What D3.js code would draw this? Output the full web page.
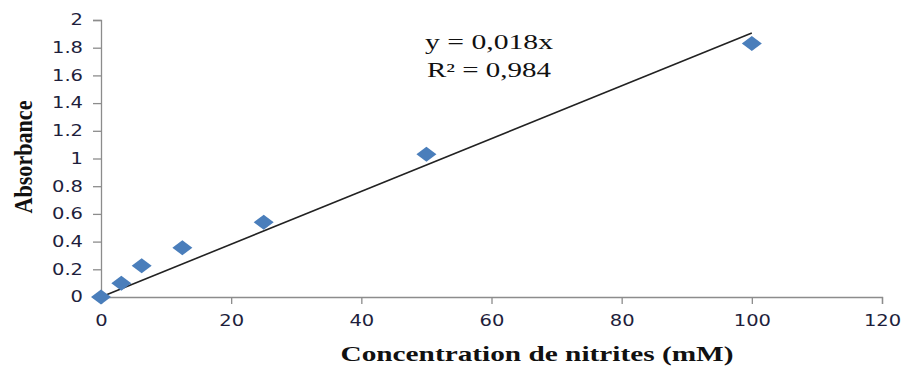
<!DOCTYPE html>
<html>
<head>
<meta charset="utf-8">
<script src="https://cdn.jsdelivr.net/npm/d3@7"></script>
<style>
  html, body { margin: 0; padding: 0; background: #fff; }
  svg { display: block; }
</style>
</head>
<body>
<svg id="chart" width="901" height="367"></svg>
<script>
// Nitrite calibration: concentration (mM) vs absorbance
const concentrations = [0, 3.125, 6.25, 12.5, 25, 50, 100];
const absorbances   = [0, 0.10, 0.225, 0.355, 0.54, 1.03, 1.83];
const xTicks = [0, 20, 40, 60, 80, 100, 120];
const yTicks = [0, 0.2, 0.4, 0.6, 0.8, 1, 1.2, 1.4, 1.6, 1.8, 2];
const equationLines = ["y = 0,018x", "R² = 0,984"];
const xTitle = "Concentration de nitrites (mM)";
const yTitle = "Absorbance";

const svg = d3.select("#chart");
const margin = { left: 101, right: 19, top: 20, bottom: 70 };
const W = 901, H = 367;

const x = d3.scaleLinear().domain([0, 120]).range([margin.left, W - margin.right]);
const y = d3.scaleLinear().domain([0, 2]).range([H - margin.bottom, margin.top]);

const stretch = 1.3; // wide lettering
function widen(sel) {
  sel.each(function () {
    const len = this.getComputedTextLength();
    d3.select(this).attr("textLength", len * stretch).attr("lengthAdjust", "spacingAndGlyphs");
  });
}

// X axis
const gx = svg.append("g")
  .attr("transform", `translate(0,${y(0)})`)
  .call(d3.axisBottom(x).tickValues(xTicks).tickSize(7).tickPadding(11).tickFormat(d3.format("d")));
// Y axis
const gy = svg.append("g")
  .attr("transform", `translate(${x(0)},0)`)
  .call(d3.axisLeft(y).tickValues(yTicks).tickSize(8).tickPadding(10)
    .tickFormat(d => d === 0 ? "0" : (Number.isInteger(d) ? String(d) : d3.format(".1f")(d))));

[gx, gy].forEach(g => {
  g.select(".domain").attr("stroke", "#8c8c8c").attr("stroke-width", 1.3);
  g.selectAll(".tick line").attr("stroke", "#8c8c8c").attr("stroke-width", 1.3);
  g.selectAll(".tick text")
    .attr("font-family", "'DejaVu Sans', Verdana, sans-serif")
    .attr("font-size", 15)
    .attr("fill", "#1e1e3c");
});
gx.selectAll(".tick text").attr("dy", "0.71em").call(widen);
gy.selectAll(".tick text").call(widen);

// Least-squares trendline through the origin
const slope = d3.sum(concentrations, (c, i) => c * absorbances[i]) / d3.sum(concentrations, c => c * c);
const xMax = d3.max(concentrations);
svg.append("line")
  .attr("x1", x(0)).attr("y1", y(0))
  .attr("x2", x(xMax)).attr("y2", y(slope * xMax))
  .attr("stroke", "#222").attr("stroke-width", 1.6);

// Diamond markers
const dx = 10, dy = 7.5;
svg.append("g").selectAll("path")
  .data(concentrations.map((c, i) => [c, absorbances[i]]))
  .join("path")
  .attr("d", d => {
    const px = x(d[0]), py = y(d[1]);
    return `M${px},${py - dy}L${px + dx},${py}L${px},${py + dy}L${px - dx},${py}Z`;
  })
  .attr("fill", "#4a7ebb");

// Regression equation
svg.append("g").selectAll("text")
  .data(equationLines)
  .join("text")
  .attr("x", 489)
  .attr("y", (d, i) => 49 + i * 28)
  .attr("text-anchor", "middle")
  .attr("font-family", "'Liberation Serif', 'Times New Roman', serif")
  .attr("font-size", 20)
  .attr("fill", "#111")
  .text(d => d)
  .attr("textLength", (d, i) => i === 0 ? 128 : 124)
  .attr("lengthAdjust", "spacingAndGlyphs");

// Axis titles
svg.append("text")
  .attr("x", 537).attr("y", 361)
  .attr("text-anchor", "middle")
  .attr("font-family", "'Liberation Serif', 'Times New Roman', serif")
  .attr("font-weight", "bold")
  .attr("font-size", 21)
  .attr("fill", "#111")
  .attr("textLength", 393).attr("lengthAdjust", "spacingAndGlyphs")
  .text(xTitle);

svg.append("text")
  .attr("transform", "translate(32,157) rotate(-90)")
  .attr("text-anchor", "middle")
  .attr("font-family", "'Liberation Serif', 'Times New Roman', serif")
  .attr("font-weight", "bold")
  .attr("font-size", 25)
  .attr("fill", "#111")
  .attr("textLength", 113).attr("lengthAdjust", "spacingAndGlyphs")
  .text(yTitle);
</script>
</body>
</html>
